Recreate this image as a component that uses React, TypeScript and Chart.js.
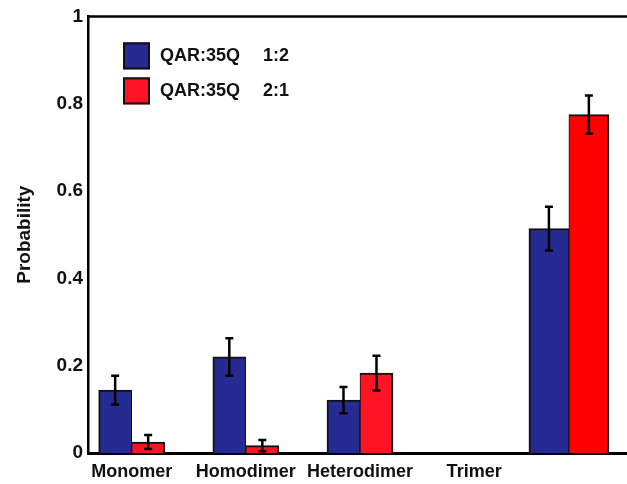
import React, { useEffect, useRef } from 'react';
import { Chart, registerables } from 'chart.js';

Chart.register(...registerables);

// ---- data ----
const categories = ['Monomer', 'Homodimer', 'Heterodimer', 'Trimer'];
const groupX = [1, 2, 3, 4.83];
const seriesLabels = ['QAR:35Q   1:2', 'QAR:35Q   2:1'];
const blueValues = [0.144, 0.22, 0.121, 0.514];
const blueErrors = [0.033, 0.043, 0.03, 0.05];
const redValues = [0.025, 0.017, 0.183, 0.775];
const redErrors = [0.016, 0.013, 0.04, 0.044];
const yTicks = [0, 0.2, 0.4, 0.6, 0.8, 1];

// ---- styles ----
const FONT = '"Liberation Sans", Arial, Helvetica, sans-serif';
const BLUE = '#262b93';
const RED = '#ff1423';
const RED_T = '#ff0000';
const EDGE = '#111111';

const errorBarPlugin = {
  id: 'errorBars',
  afterDatasetsDraw(chart: any) {
    const ctx = chart.ctx;
    const y = chart.scales.y;
    ctx.save();
    ctx.strokeStyle = '#000';
    ctx.lineWidth = 2.5;
    chart.data.datasets.forEach((ds: any, di: number) => {
      const meta = chart.getDatasetMeta(di);
      meta.data.forEach((el: any, i: number) => {
        const v = ds.data[i].y;
        const e = ds.errors[i];
        const px = el.x;
        const top = y.getPixelForValue(v + e);
        const bot = y.getPixelForValue(v - e);
        ctx.beginPath();
        ctx.moveTo(px, top);
        ctx.lineTo(px, bot);
        ctx.moveTo(px - 4, top);
        ctx.lineTo(px + 4, top);
        ctx.moveTo(px - 4, bot);
        ctx.lineTo(px + 4, bot);
        ctx.stroke();
      });
    });
    ctx.restore();
  },
};

const framePlugin = {
  id: 'frameAndLegend',
  afterDraw(chart: any) {
    const ctx = chart.ctx;
    const a = chart.chartArea;
    ctx.save();
    // top frame line
    ctx.strokeStyle = '#000';
    ctx.lineWidth = 2.5;
    ctx.beginPath();
    ctx.moveTo(a.left - 1, a.top);
    ctx.lineTo(a.right, a.top);
    ctx.stroke();
    // legend
    const colors = [BLUE, RED];
    ctx.font = `bold 18px ${FONT}`;
    ctx.textBaseline = 'middle';
    ctx.textAlign = 'left';
    seriesLabels.forEach((lab, i) => {
      const bx = a.left + 35;
      const by = a.top + 26 + i * 35;
      ctx.fillStyle = colors[i];
      ctx.fillRect(bx, by, 27, 27);
      ctx.strokeStyle = EDGE;
      ctx.lineWidth = 2;
      ctx.strokeRect(bx + 1, by + 1, 25, 25);
      ctx.fillStyle = '#111';
      const parts = lab.split(/\s{2,}/);
      ctx.fillText(parts[0], bx + 37, by + 14);
      if (parts[1]) ctx.fillText(parts[1], bx + 140, by + 14);
    });
    ctx.restore();
  },
};

export default function App() {
  const ref = useRef<HTMLCanvasElement>(null);

  useEffect(() => {
    if (!ref.current) return;
    const first = [0, 1, 2];
    const half = 0.1445;
    const halfT = 0.175;
    const datasets: any[] = [
      {
        label: seriesLabels[0],
        data: first.map((i) => ({ x: groupX[i] - half, y: blueValues[i] })),
        errors: first.map((i) => blueErrors[i]),
        backgroundColor: BLUE,
        borderColor: EDGE,
        borderWidth: { top: 2, left: 2, right: 1, bottom: 0 },
        borderSkipped: false,
        barThickness: 33,
      },
      {
        label: seriesLabels[1],
        data: first.map((i) => ({ x: groupX[i] + half, y: redValues[i] })),
        errors: first.map((i) => redErrors[i]),
        backgroundColor: RED,
        borderColor: EDGE,
        borderWidth: { top: 2, left: 1, right: 2, bottom: 0 },
        borderSkipped: false,
        barThickness: 33,
      },
      {
        label: seriesLabels[0] + ' ',
        data: [{ x: groupX[3] - halfT, y: blueValues[3] }],
        errors: [blueErrors[3]],
        backgroundColor: BLUE,
        borderColor: EDGE,
        borderWidth: { top: 2, left: 2, right: 1, bottom: 0 },
        borderSkipped: false,
        barThickness: 40,
      },
      {
        label: seriesLabels[1] + ' ',
        data: [{ x: groupX[3] + halfT, y: redValues[3] }],
        errors: [redErrors[3]],
        backgroundColor: RED_T,
        borderColor: EDGE,
        borderWidth: { top: 2, left: 1, right: 2, bottom: 0 },
        borderSkipped: false,
        barThickness: 40,
      },
    ];

    const chart = new Chart(ref.current, {
      type: 'bar',
      data: { datasets },
      plugins: [errorBarPlugin, framePlugin],
      options: {
        animation: false,
        responsive: false,
        devicePixelRatio: 1,
        grouped: false,
        layout: { padding: { top: 16, left: 0, right: 0, bottom: 0 } },
        plugins: {
          legend: { display: false },
          tooltip: { enabled: false },
        },
        scales: {
          x: {
            type: 'linear',
            offset: false,
            min: 0.6176,
            max: 5.339,
            grid: { display: false, drawTicks: false },
            border: { display: true, color: '#000', width: 3 },
            afterBuildTicks: (scale: any) => {
              scale.ticks = categories.map((_, i) => ({ value: i + 1 }));
            },
            afterFit: (scale: any) => {
              scale.height = 31;
            },
            ticks: {
              autoSkip: false,
              maxRotation: 0,
              padding: 8,
              color: '#111',
              font: { family: FONT, size: 18, weight: 'bold' },
              callback: (v: any) => categories[Math.round(v) - 1] ?? '',
            },
          },
          y: {
            type: 'linear',
            min: 0,
            max: 1,
            grid: { display: false, drawTicks: false },
            border: { display: true, color: '#000', width: 2.5 },
            afterBuildTicks: (scale: any) => {
              scale.ticks = yTicks.map((v) => ({ value: v }));
            },
            afterFit: (scale: any) => {
              scale.width = 88;
            },
            ticks: {
              padding: 5,
              color: '#111',
              font: { family: FONT, size: 19, weight: 'bold' },
              callback: (v: any) => String(v),
            },
            title: {
              display: true,
              text: 'Probability',
              color: '#111',
              padding: { top: 13, bottom: 0 },
              font: { family: FONT, size: 19, weight: 'bold' },
            },
          },
        },
      } as any,
    });
    return () => chart.destroy();
  }, []);

  return (
    <div style={{ position: 'absolute', left: 0, top: 0, width: 627, height: 484, background: '#fff' }}>
      <canvas ref={ref} width={627} height={484} style={{ display: 'block' }} />
    </div>
  );
}
